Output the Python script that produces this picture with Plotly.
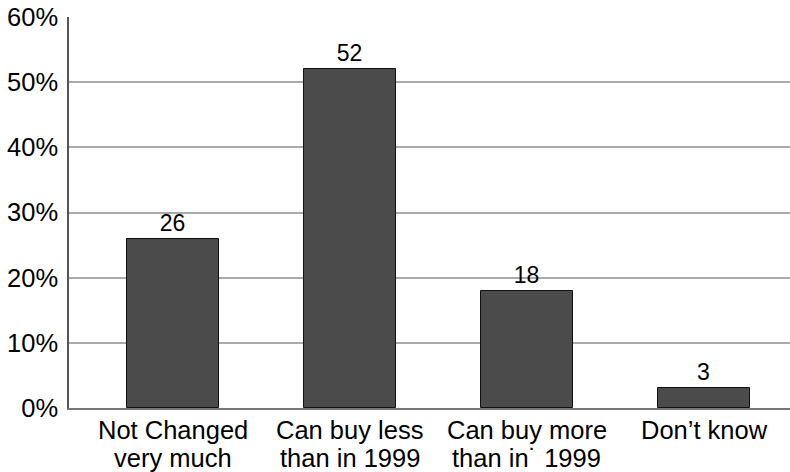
import plotly.graph_objects as go

cat_line1 = ["Not Changed", "Can buy less", "Can buy more", "Don\u2019t know"]
cat_line2 = ["very much", "than in 1999", "than in\u02d9 1999", ""]
values = [26, 52, 18, 3]
tick_vals = [0, 10, 20, 30, 40, 50, 60]
tick_text = ["0%", "10%", "20%", "30%", "40%", "50%", "60%"]

FONT = "Liberation Sans, Arial, sans-serif"
xs = list(range(len(values)))

fig = go.Figure(go.Bar(
    x=xs,
    y=values,
    text=[str(v) for v in values],
    textposition="outside",
    textfont=dict(size=23, color="black", family=FONT),
    cliponaxis=False,
    width=0.52,
    marker=dict(color="#4b4b4b", line=dict(color="#111111", width=1)),
))

annotations = []
for x, l1, l2 in zip(xs, cat_line1, cat_line2):
    annotations.append(dict(x=x, xref="x", y=0, yref="paper", yanchor="top",
                            yshift=-6, text=l1, showarrow=False,
                            font=dict(size=25.5, color="black", family=FONT)))
    if l2:
        annotations.append(dict(x=x, xref="x", y=0, yref="paper", yanchor="top",
                                yshift=-34, text=l2, showarrow=False,
                                font=dict(size=25.5, color="black", family=FONT)))

fig.update_layout(
    width=790, height=472,
    margin=dict(l=69, r=0, t=17, b=64),
    paper_bgcolor="white", plot_bgcolor="white",
    font=dict(family=FONT, color="black", size=25),
    showlegend=False,
    bargap=0,
    annotations=annotations,
)
fig.update_xaxes(
    range=[-0.585, 3.485],
    showgrid=False, showticklabels=False,
    showline=True, linecolor="#777777", linewidth=1.5,
    ticks="", automargin=False,
    zeroline=False,
)
fig.update_yaxes(
    range=[0, 60],
    tickmode="array", tickvals=tick_vals, ticktext=tick_text,
    showgrid=True, gridcolor="#aaaaaa", gridwidth=1.5,
    showline=True, linecolor="#555555", linewidth=1.5,
    ticks="", tickfont=dict(size=25.5),
    ticklabelstandoff=4, automargin=False,
    ticklabeloverflow="allow",
    zeroline=False,
)

fig.write_html("out.html", config={"displayModeBar": False},
               post_script="document.body.style.margin='0';")
